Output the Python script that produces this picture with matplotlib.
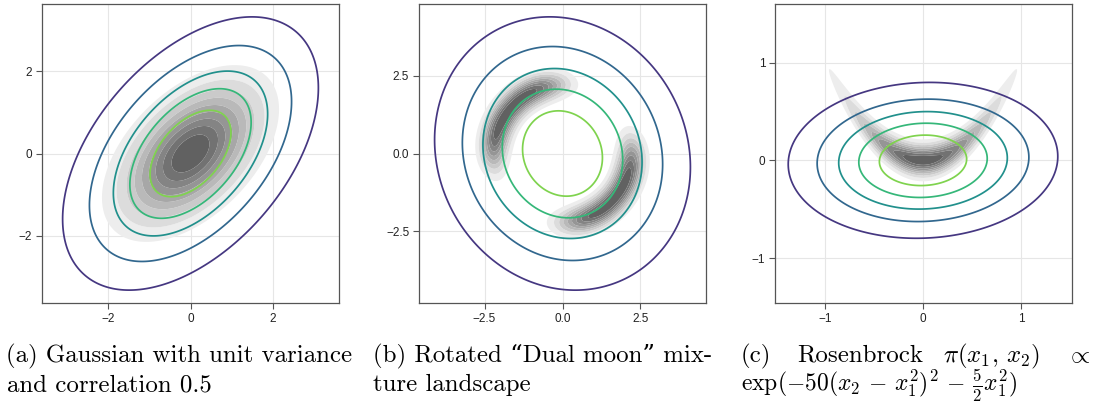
import numpy as np
import matplotlib
matplotlib.use("Agg")
import matplotlib.pyplot as plt

plt.rcParams["mathtext.fontset"] = "cm"
plt.rcParams["font.family"] = ["Liberation Sans", "DejaVu Sans"]

# --- data -------------------------------------------------------------
# filled (grey) levels: fractions of the target density peak
fill_levels = [0.1, 0.2, 0.3, 0.4, 0.5, 0.6, 0.7, 0.8, 0.9, 1.0]

# (a) target: unit-variance Gaussian, correlation 0.5
gauss_rho = 0.5
# fitted approximation (line contours): sd_x, sd_y, corr, Mahalanobis radii
fit_a = dict(sx=1.0, sy=1.07, rho=0.48, radii=[0.98, 1.47, 1.87, 2.45, 3.1])

# (b) rotated dual moon: ring radius, ring width, mode width along the axis, mode angle (deg)
moon = dict(R=2.2, s=0.3, w=0.56, angle=-40)
fit_b = dict(sx=1.0, sy=1.07, rho=-0.1, radii=[1.28, 1.93, 2.55, 3.21, 4.1])

# (c) Rosenbrock exp(-50 (x2 - x1^2)^2 - 5/2 x1^2)
rosen_a, rosen_b = 50.0, 2.5
fit_c = dict(sx=1.0, sy=0.58, rho=0.05, radii=[0.445, 0.655, 0.86, 1.08, 1.375])

line_colors = ["#7fd34e", "#35b779", "#21908c", "#31678e", "#453781"]

xlims = [(-3.6, 3.6), (-4.6, 4.6), (-1.51, 1.52)]
ylims = [(-3.63, 3.63), (-4.8, 4.8), (-1.46, 1.6)]
xticks = [[-2, 0, 2], [-2.5, 0.0, 2.5], [-1, 0, 1]]
yticks = [[-2, 0, 2], [-2.5, 0.0, 2.5], [-1, 0, 1]]
tick_fmt = ["{:g}", "{:.1f}", "{:g}"]


def grid(xl, yl, n=500):
    x = np.linspace(xl[0], xl[1], n)
    y = np.linspace(yl[0], yl[1], n)
    return np.meshgrid(x, y)


def maha(X, Y, sx, sy, rho):
    u, v = X / sx, Y / sy
    return np.sqrt((u * u - 2 * rho * u * v + v * v) / (1 - rho ** 2))


def dens_a(X, Y):
    q = (X ** 2 - 2 * gauss_rho * X * Y + Y ** 2) / (1 - gauss_rho ** 2)
    return np.exp(-0.5 * q)


def dens_b(X, Y):
    r = np.hypot(X, Y)
    phi = np.arctan2(Y, X)
    t = np.deg2rad(moon["angle"])
    R, w = moon["R"], moon["w"]
    ring = np.exp(-0.5 * ((r - R) / moon["s"]) ** 2)
    # modes at +/- R along the rotated axis, measured on the ring
    cs = np.cos(phi - t)
    modes = np.exp(-0.5 * (R * (1 - cs) / w) ** 2) + np.exp(-0.5 * (R * (1 + cs) / w) ** 2)
    return ring * modes


def dens_c(X, Y):
    return np.exp(-rosen_a * (Y - X ** 2) ** 2 - rosen_b * X ** 2)


W, H = 1094, 404
fig = plt.figure(figsize=(W / 100, H / 100), dpi=100)
boxes = [(42, 297), (419, 287), (775, 297)]  # left, width in px
top, bottom = 4, 303

greys = [str(g) for g in np.linspace(0.93, 0.38, len(fill_levels) - 1)]

for i, (dens, fit) in enumerate([(dens_a, fit_a), (dens_b, fit_b), (dens_c, fit_c)]):
    l, w = boxes[i]
    ax = fig.add_axes([l / W, (H - bottom) / H, w / W, (bottom - top) / H])
    X, Y = grid(xlims[i], ylims[i], 700)
    P = dens(X, Y)
    P = P / P.max()
    ax.contourf(X, Y, P, levels=fill_levels, colors=greys, antialiased=True, zorder=2)
    D = maha(X, Y, fit["sx"], fit["sy"], fit["rho"])
    ax.contour(X, Y, D, levels=fit["radii"], colors=line_colors, linewidths=1.25, zorder=3)

    ax.set_xlim(*xlims[i]); ax.set_ylim(*ylims[i])
    ax.set_xticks(xticks[i]); ax.set_yticks(yticks[i])
    ax.set_xticklabels([tick_fmt[i].format(v).replace("-", "\u2212") for v in xticks[i]])
    ax.set_yticklabels([tick_fmt[i].format(v).replace("-", "\u2212") for v in yticks[i]])
    ax.grid(True, color="#e6e6e6", lw=0.8, zorder=0)
    ax.set_axisbelow(True)
    for sp in ax.spines.values():
        sp.set_color("#555555"); sp.set_linewidth(0.9)
    ax.tick_params(direction="out", length=4, width=0.8, color="#555555",
                   labelsize=8.5, labelcolor="#222222", pad=3)

# --- captions ---------------------------------------------------------
FS = 17.9
cap = dict(family=["cmr10", "DejaVu Serif"], fontsize=FS, va="baseline", color="black")
mcap = dict(fontsize=FS, va="baseline", color="black")
b1, b2 = 1 - 362 / H, 1 - 391 / H


def fx(px):
    return px / W


fig.text(fx(6), b1, "(a) Gaussian with unit variance", **cap)
fig.text(fx(7), b2, "and correlation 0.5", **cap)
fig.text(fx(373), b1, "(b) Rotated \u201cDual moon\u201d mix-", **cap)
fig.text(fx(373), b2, "ture landscape", **cap)
fig.text(fx(741), b1, "(c)", **cap)
fig.text(fx(797), b1, "Rosenbrock", **cap)
fig.text(fx(943), b1, r"$\pi(x_1,\,x_2)$", **mcap)
fig.text(fx(1090), b1, r"$\propto$", ha="right", **mcap)
fig.text(fx(741), b2, r"$\exp(-50(x_2\,-\,x_1^2)^2\,-\,\frac{5}{2}x_1^2)$",
         fontsize=17.0, va="baseline", color="black")

fig.savefig("out.png", dpi=100)
